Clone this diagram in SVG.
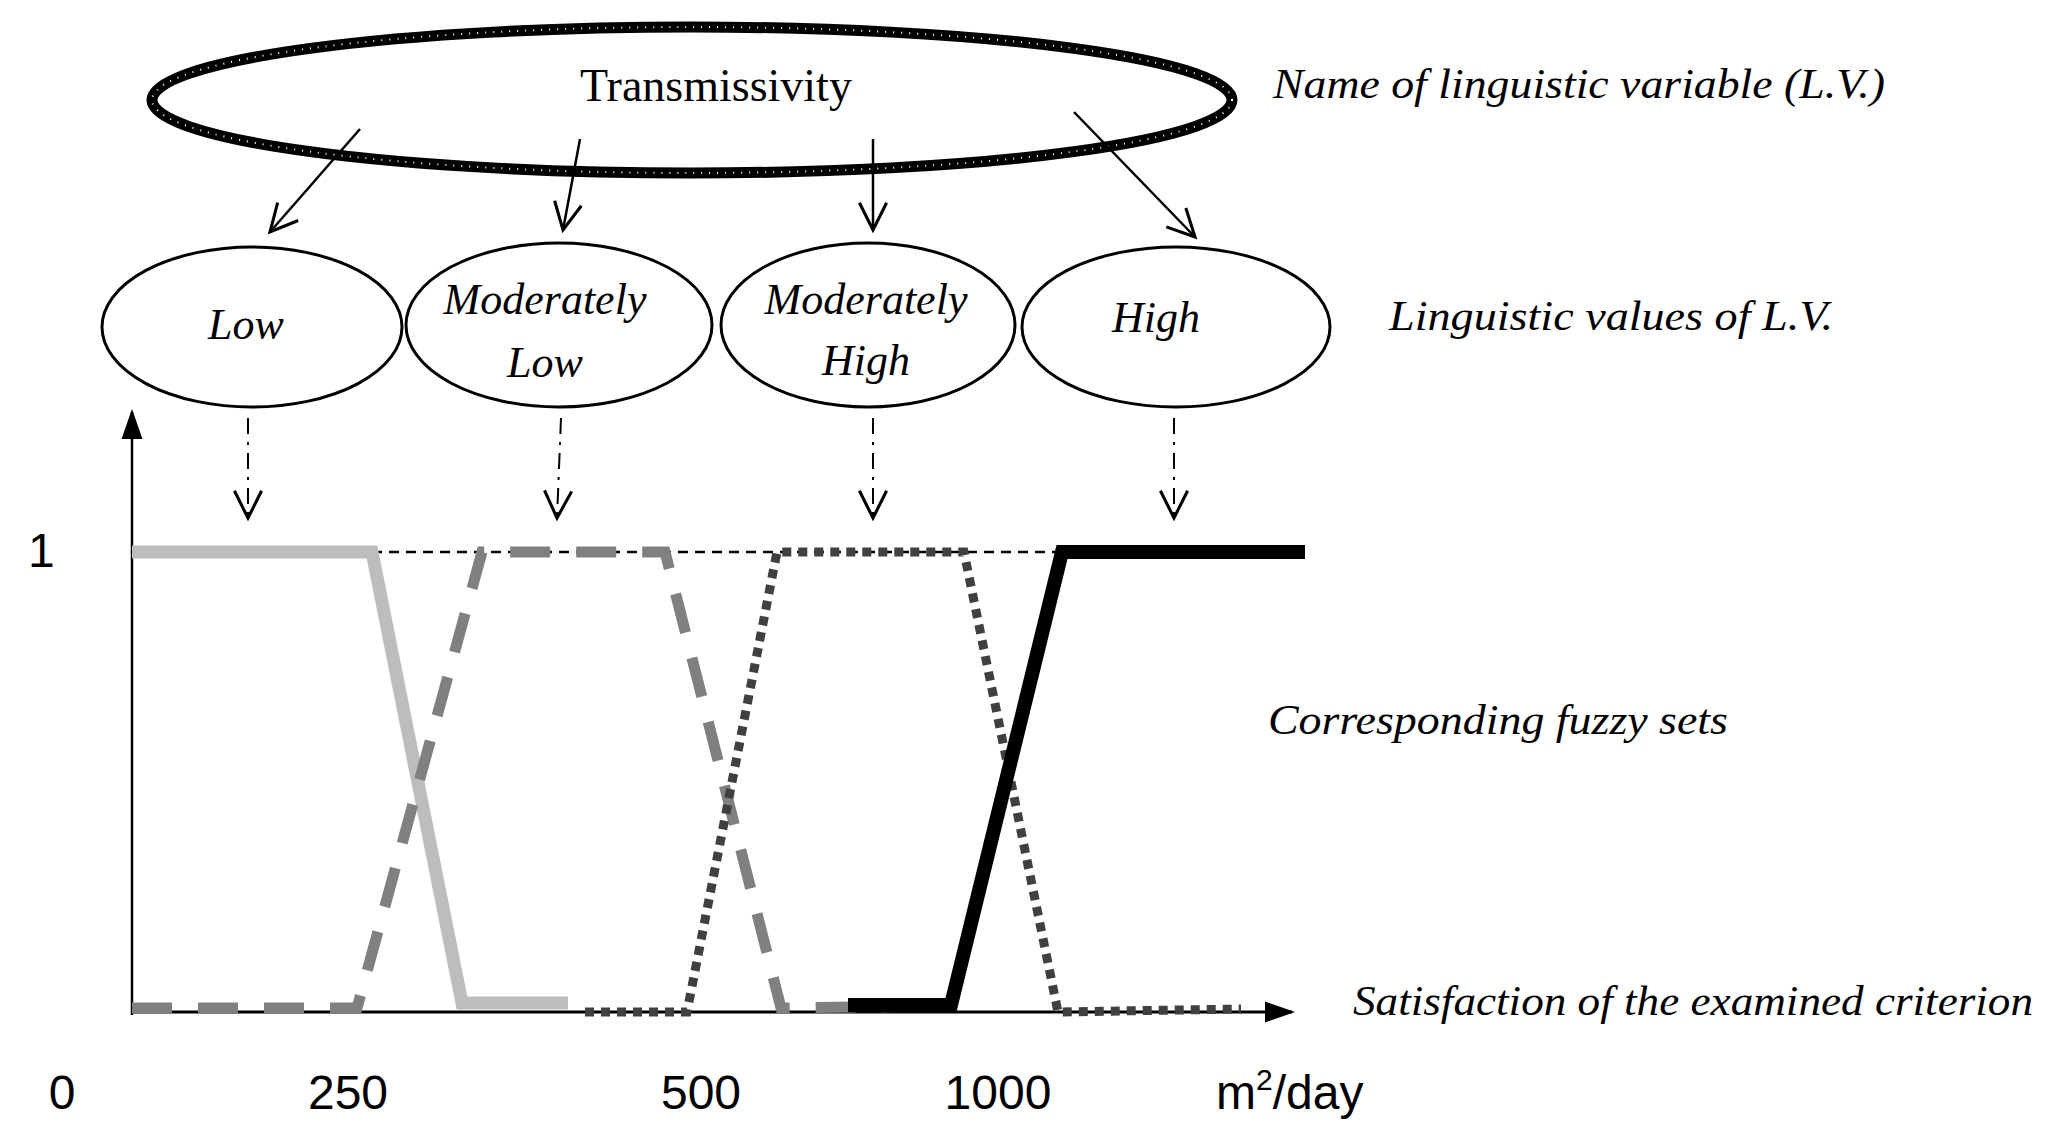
<svg xmlns="http://www.w3.org/2000/svg" width="2054" height="1146" viewBox="0 0 2054 1146">
<defs>
<marker id="v" viewBox="0 0 20 20" refX="18" refY="10" markerWidth="34" markerHeight="34" markerUnits="userSpaceOnUse" orient="auto"><path d="M2,2 L18,10 L2,18" fill="none" stroke="#000" stroke-width="1.8"/></marker>
<marker id="tri" viewBox="0 0 20 20" refX="18" refY="10" markerWidth="30" markerHeight="30" markerUnits="userSpaceOnUse" orient="auto"><path d="M0,3 L20,10 L0,17 Z" fill="#000"/></marker>
</defs>
<style>
.lv{font-family:"Liberation Serif",serif;font-style:italic;font-size:44px;text-anchor:middle}
.note{font-family:"Liberation Serif",serif;font-style:italic;font-size:42px}
.num{font-family:"Liberation Sans",sans-serif;font-size:48px}
.val{fill:#fff;stroke:#000;stroke-width:3}
.arr{stroke:#000;stroke-width:2.5;fill:none;marker-end:url(#v)}
.da{stroke:#000;stroke-width:2;fill:none;stroke-dasharray:16 8 3 8;marker-end:url(#v)}
</style>
<rect width="2054" height="1146" fill="#fff"/>
<g id="var">
<ellipse cx="692" cy="100" rx="540" ry="73" fill="none" stroke="#000" stroke-width="11"/>
<ellipse cx="692" cy="100" rx="540" ry="73" fill="none" stroke="#fff" stroke-width="2" stroke-dasharray="1 7"/>
<text x="716" y="101" font-family="Liberation Serif,serif" font-size="46" text-anchor="middle">Transmissivity</text>
</g>
<g id="n-low"><ellipse class="val" cx="252" cy="327" rx="150" ry="80"/><text class="lv" x="246" y="339">Low</text></g>
<g id="n-ml"><ellipse class="val" cx="559" cy="325" rx="153" ry="82"/><text class="lv" x="545" y="314">Moderately</text><text class="lv" x="545" y="377">Low</text></g>
<g id="n-mh"><ellipse class="val" cx="868" cy="325" rx="147" ry="82"/><text class="lv" x="866" y="314">Moderately</text><text class="lv" x="866" y="375">High</text></g>
<g id="n-high"><ellipse class="val" cx="1176" cy="327" rx="154" ry="80"/><text class="lv" x="1156" y="332">High</text></g>
<g id="connectors">
<line class="arr" x1="360" y1="129" x2="270" y2="232"/>
<line class="arr" x1="580" y1="139" x2="563" y2="230"/>
<line class="arr" x1="873" y1="139" x2="873" y2="230"/>
<line class="arr" x1="1074" y1="112" x2="1195" y2="237"/>
<line class="da" x1="248" y1="418" x2="248" y2="518"/>
<line class="da" x1="561" y1="418" x2="557" y2="518"/>
<line class="da" x1="873" y1="418" x2="873" y2="518"/>
<line class="da" x1="1174" y1="418" x2="1174" y2="518"/>
</g>
<g id="chart">
<line x1="132" y1="1015" x2="132" y2="412" stroke="#000" stroke-width="2.5" marker-end="url(#tri)"/>
<line x1="132" y1="1012" x2="1292" y2="1012" stroke="#000" stroke-width="3" marker-end="url(#tri)"/>
<line x1="372" y1="552" x2="1065" y2="552" stroke="#000" stroke-width="2.5" stroke-dasharray="10 7"/>
<polyline points="132,552 372,552 462,1003 568,1003" fill="none" stroke="#bdbdbd" stroke-width="13"/>
<polyline points="132,1008 357,1008 482,552 665,552 781,1008 946,1006" fill="none" stroke="#808080" stroke-width="11" stroke-dasharray="40 26"/>
<polyline points="585,1012 687,1012 777,552 964,552 1058,1012 1241,1009" fill="none" stroke="#404040" stroke-width="9" stroke-dasharray="9 7"/>
<polyline points="848,1005 951,1005 1062,552 1305,552" fill="none" stroke="#000" stroke-width="14"/>
</g>
<g id="labels">
<text class="num" x="28" y="567">1</text>
<text class="num" x="62" y="1109" text-anchor="middle">0</text>
<text class="num" x="348" y="1109" text-anchor="middle">250</text>
<text class="num" x="701" y="1109" text-anchor="middle">500</text>
<text class="num" x="998" y="1109" text-anchor="middle">1000</text>
<text class="num" x="1216" y="1109">m<tspan font-size="30" dy="-19">2</tspan><tspan dy="19">/day</tspan></text>
<text class="note" x="1273" y="98" textLength="612" lengthAdjust="spacingAndGlyphs">Name of linguistic variable (L.V.)</text>
<text class="note" x="1389" y="330" textLength="444" lengthAdjust="spacingAndGlyphs">Linguistic values of L.V.</text>
<text class="note" x="1268" y="734" textLength="460" lengthAdjust="spacingAndGlyphs">Corresponding fuzzy sets</text>
<text class="note" x="1353" y="1015" textLength="680" lengthAdjust="spacingAndGlyphs">Satisfaction of the examined criterion</text>
</g>
</svg>
